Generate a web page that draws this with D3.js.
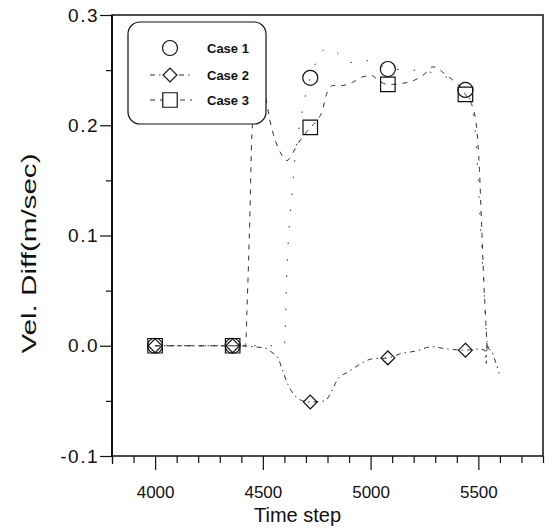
<!DOCTYPE html>
<html>
<head>
<meta charset="utf-8">
<script src="https://cdn.jsdelivr.net/npm/d3@7"></script>
<style>
  html, body { margin: 0; padding: 0; background: #fff; }
  svg { display: block; }
  text { font-family: Arial, "Liberation Sans", sans-serif; fill: #111; }
</style>
</head>
<body>
<svg id="chart" width="551" height="528"></svg>
<script>
// ---- data ----
const seriesNames = ["Case 1", "Case 2", "Case 3"];

// sampled time steps carrying markers
const markerSteps = [4000, 4360, 4720, 5080, 5440];
const case1Markers = [0, 0, 0.243, 0.251, 0.232];
const case2Markers = [0, 0, -0.051, -0.011, -0.004];
const case3Markers = [0, 0, 0.198, 0.237, 0.228];

// continuous traces: [time step, velocity difference]
const case1Line = [
  [4000, 0], [4360, 0], [4600, 0], [4610, 0.06], [4640, 0.15], [4690, 0.22],
  [4720, 0.243], [4760, 0.262], [4797, 0.270], [4843, 0.266], [4903, 0.257],
  [4960, 0.258], [5010, 0.259], [5080, 0.251], [5200, 0.250], [5300, 0.247],
  [5440, 0.232], [5480, 0.205], [5515, 0.09], [5540, 0.0]
];
const case2Line = [
  [4000, 0], [4360, 0], [4509, -0.002], [4542, -0.006], [4570, -0.011],
  [4593, -0.023], [4616, -0.035], [4648, -0.045], [4685, -0.050], [4720, -0.051],
  [4788, -0.050], [4820, -0.041], [4848, -0.030], [4894, -0.024], [4940, -0.018],
  [5005, -0.012], [5080, -0.011], [5144, -0.007], [5205, -0.005], [5284, -0.001],
  [5358, -0.003], [5440, -0.004], [5497, -0.003], [5530, -0.004], [5537, -0.016],
  [5541, 0.004], [5548, -0.003], [5560, -0.004], [5575, -0.012], [5597, -0.025]
];
const case3Line = [
  [4000, 0], [4360, 0], [4420, 0], [4426, 0.031], [4440, 0.12], [4449, 0.191],
  [4462, 0.218], [4478, 0.232], [4495, 0.234], [4510, 0.228], [4532, 0.205],
  [4560, 0.185], [4585, 0.174], [4612, 0.168], [4636, 0.174], [4665, 0.184],
  [4695, 0.192], [4720, 0.198], [4750, 0.204], [4774, 0.212], [4797, 0.229],
  [4825, 0.236], [4866, 0.236], [4917, 0.239], [4964, 0.244], [5005, 0.245],
  [5040, 0.240], [5080, 0.237], [5149, 0.238], [5205, 0.241], [5260, 0.248],
  [5288, 0.253], [5310, 0.252], [5335, 0.248], [5381, 0.241], [5427, 0.232],
  [5440, 0.228], [5474, 0.216], [5492, 0.198], [5505, 0.16], [5515, 0.11],
  [5525, 0.06], [5535, 0.02], [5541, -0.003]
];

const xMajorTicks = [4000, 4500, 5000, 5500];
const yMajorTicks = [-0.1, 0.0, 0.1, 0.2, 0.3];
const yTickLabels = ["-0.1", "0.0", "0.1", "0.2", "0.3"];
const xTitle = "Time step";
const yTitle = "Vel. Diff(m/sec)";

// ---- layout ----
const svg = d3.select("#chart");
const plot = { left: 112, right: 543, top: 15, bottom: 456 };
const FONT = "Arial, 'Liberation Sans', sans-serif";

const x = d3.scaleLinear().domain([3800, 5800]).range([plot.left, plot.right]);
const y = d3.scaleLinear().domain([-0.1, 0.3]).range([plot.bottom, plot.top]);

const xMinorTicks = d3.range(3800, 5801, 100).filter(v => !xMajorTicks.includes(v));
const yMinorTicks = d3.range(-0.1, 0.301, 0.05).map(v => +v.toFixed(2))
  .filter(v => !yMajorTicks.some(t => Math.abs(t - v) < 1e-9));

// ---- axes ----
const axisStyle = g => {
  g.select(".domain").remove();
  g.selectAll("line").attr("stroke", "#111").attr("stroke-width", 1.2);
};

svg.append("g")
  .attr("transform", `translate(0,${plot.bottom})`)
  .call(d3.axisBottom(x).tickValues(xMinorTicks).tickSize(7).tickFormat(""))
  .call(axisStyle);
svg.append("g")
  .attr("transform", `translate(0,${plot.bottom})`)
  .call(d3.axisBottom(x).tickValues(xMajorTicks).tickSize(14).tickPadding(16)
        .tickFormat(d3.format("d")))
  .call(axisStyle)
  .call(g => g.selectAll("text").attr("font-size", 17).attr("fill", "#111")
        .attr("font-family", FONT));

svg.append("g")
  .attr("transform", `translate(0,${plot.bottom})`)
  .call(d3.axisBottom(x).tickValues([3800]).tickSize(8).tickFormat(""))
  .call(axisStyle);

svg.append("g")
  .attr("transform", `translate(${plot.left},0)`)
  .call(d3.axisLeft(y).tickValues(yMinorTicks).tickSize(6).tickFormat(""))
  .call(axisStyle);
svg.append("g")
  .attr("transform", `translate(${plot.left},0)`)
  .call(d3.axisLeft(y).tickValues(yMajorTicks).tickSize(12).tickPadding(0)
        .tickFormat((d, i) => yTickLabels[i]))
  .call(axisStyle)
  .call(g => g.selectAll("text")
        .attr("font-size", 19).attr("fill", "#111")
        .attr("font-family", FONT)
        .attr("letter-spacing", "1.5px")
        .attr("x", -13));

// frame around the plotting area
svg.append("rect")
  .attr("x", plot.left).attr("y", plot.top)
  .attr("width", plot.right - plot.left).attr("height", plot.bottom - plot.top)
  .attr("fill", "none").attr("stroke", "#111").attr("stroke-width", 1.5);
svg.append("line")
  .attr("x1", plot.left).attr("x2", plot.left)
  .attr("y1", plot.top).attr("y2", plot.bottom)
  .attr("stroke", "#111").attr("stroke-width", 2);

// axis titles
svg.append("text")
  .attr("x", (plot.left + plot.right) / 2 - 30).attr("y", 522)
  .attr("text-anchor", "middle").attr("font-size", 20)
  .text(xTitle);
svg.append("text")
  .attr("transform", `translate(36,${(plot.top + plot.bottom) / 2 + 18}) rotate(-90)`)
  .attr("text-anchor", "middle").attr("font-size", 21)
  .attr("textLength", 200).attr("lengthAdjust", "spacingAndGlyphs")
  .text(yTitle);

// ---- traces ----
const line = d3.line()
  .x(d => x(d[0])).y(d => y(d[1]))
  .curve(d3.curveMonotoneX);

const traces = [
  { data: case1Line, dash: "1.5,15", width: 1.0 },
  { data: case2Line, dash: "5,4,1.5,4", width: 1.0 },
  { data: case3Line, dash: "5,6", width: 1.0 }
];
const plotG = svg.append("g");
traces.forEach(t => {
  plotG.append("path")
    .attr("d", line(t.data))
    .attr("fill", "none")
    .attr("stroke", "#333")
    .attr("stroke-width", t.width)
    .attr("stroke-dasharray", t.dash);
});

// ---- markers ----
const circleSym = d3.symbol().type(d3.symbolCircle).size(Math.PI * 7.5 * 7.5);
const diamondSym = d3.symbol().type(d3.symbolDiamond2).size(2 * 7.8 * 7.8);
const squareSym = d3.symbol().type(d3.symbolSquare).size(14.5 * 14.5);

function drawMarkers(values, sym) {
  plotG.selectAll(null)
    .data(markerSteps.map((s, i) => [s, values[i]]))
    .enter().append("path")
    .attr("transform", d => `translate(${x(d[0])},${y(d[1])})`)
    .attr("d", sym)
    .attr("fill", "none").attr("stroke", "#111").attr("stroke-width", 1.2);
}
drawMarkers(case1Markers, circleSym);
drawMarkers(case2Markers, diamondSym);
drawMarkers(case3Markers, squareSym);

// ---- legend ----
const legend = svg.append("g");
legend.append("rect")
  .attr("x", 128).attr("y", 22).attr("width", 138).attr("height", 102)
  .attr("rx", 12).attr("ry", 12)
  .attr("fill", "#fff").attr("stroke", "#111").attr("stroke-width", 1.2);

const legendRows = [
  { name: seriesNames[0], sym: circleSym, dash: null, cy: 48 },
  { name: seriesNames[1], sym: diamondSym, dash: "5,4,1.5,4", cy: 75 },
  { name: seriesNames[2], sym: squareSym, dash: "5,5", cy: 100 }
];
legendRows.forEach(r => {
  if (r.dash) {
    legend.append("line")
      .attr("x1", 150).attr("x2", 192).attr("y1", r.cy).attr("y2", r.cy)
      .attr("stroke", "#333").attr("stroke-width", 1).attr("stroke-dasharray", r.dash);
  }
  legend.append("path")
    .attr("transform", `translate(170,${r.cy})`)
    .attr("d", r.sym)
    .attr("fill", "#fff").attr("stroke", "#111").attr("stroke-width", 1.2);
  legend.append("text")
    .attr("x", 207).attr("y", r.cy + 4.5)
    .attr("font-size", 13).attr("font-weight", "bold")
    .text(r.name);
});
</script>
</body>
</html>
